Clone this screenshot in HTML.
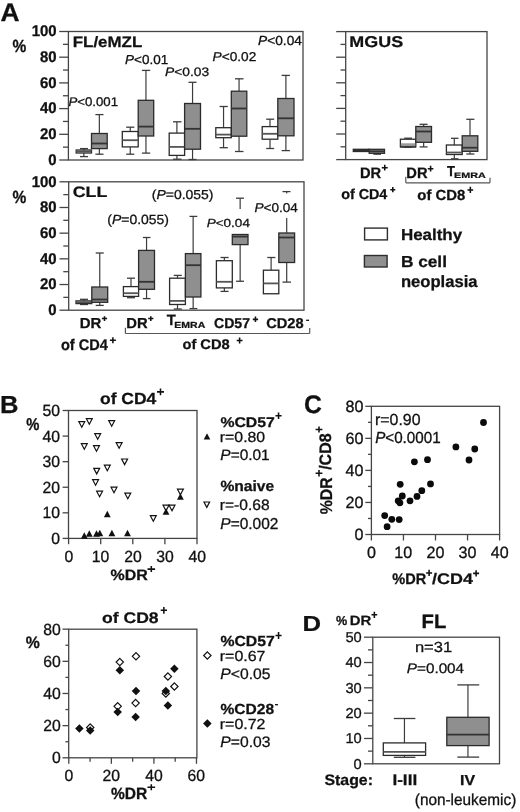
<!DOCTYPE html><html><head><meta charset="utf-8"><style>
html,body{margin:0;padding:0;background:#fff;}
svg{display:block;filter:grayscale(1);}
text{font-family:"Liberation Sans",sans-serif;text-rendering:geometricPrecision;}
</style></head><body>
<svg width="520" height="812" viewBox="0 0 520 812">
<rect width="520" height="812" fill="#fff"/>
<text transform="translate(0.49,20.60) scale(1.0387,1)" font-size="25.36" font-weight="bold" fill="#111" stroke="#111" stroke-width="0.27">A</text>
<rect x="68.40" y="31.50" width="234.60" height="128.50" fill="none" stroke="#454545" stroke-width="1.3"/>
<line x1="59.20" y1="160.00" x2="68.40" y2="160.00" stroke="#454545" stroke-width="1.3"/>
<line x1="63.00" y1="147.15" x2="68.40" y2="147.15" stroke="#454545" stroke-width="1.3"/>
<line x1="59.20" y1="134.30" x2="68.40" y2="134.30" stroke="#454545" stroke-width="1.3"/>
<line x1="63.00" y1="121.45" x2="68.40" y2="121.45" stroke="#454545" stroke-width="1.3"/>
<line x1="59.20" y1="108.60" x2="68.40" y2="108.60" stroke="#454545" stroke-width="1.3"/>
<line x1="63.00" y1="95.75" x2="68.40" y2="95.75" stroke="#454545" stroke-width="1.3"/>
<line x1="59.20" y1="82.90" x2="68.40" y2="82.90" stroke="#454545" stroke-width="1.3"/>
<line x1="63.00" y1="70.05" x2="68.40" y2="70.05" stroke="#454545" stroke-width="1.3"/>
<line x1="59.20" y1="57.20" x2="68.40" y2="57.20" stroke="#454545" stroke-width="1.3"/>
<line x1="63.00" y1="44.35" x2="68.40" y2="44.35" stroke="#454545" stroke-width="1.3"/>
<line x1="59.20" y1="31.50" x2="68.40" y2="31.50" stroke="#454545" stroke-width="1.3"/>
<text transform="translate(31.70,36.25) scale(0.9651,1)" font-size="15.49" font-weight="bold" fill="#111" stroke="#111" stroke-width="0.29">100</text>
<text transform="translate(40.00,61.95) scale(0.9651,1)" font-size="15.49" font-weight="bold" fill="#111" stroke="#111" stroke-width="0.29">80</text>
<text transform="translate(40.00,87.65) scale(0.9651,1)" font-size="15.49" font-weight="bold" fill="#111" stroke="#111" stroke-width="0.29">60</text>
<text transform="translate(40.00,113.35) scale(0.9651,1)" font-size="15.49" font-weight="bold" fill="#111" stroke="#111" stroke-width="0.29">40</text>
<text transform="translate(40.00,139.05) scale(0.9651,1)" font-size="15.49" font-weight="bold" fill="#111" stroke="#111" stroke-width="0.29">20</text>
<text transform="translate(48.30,164.75) scale(0.9651,1)" font-size="15.49" font-weight="bold" fill="#111" stroke="#111" stroke-width="0.29">0</text>
<text transform="translate(12.41,52.02) scale(0.8799,1)" font-size="17.59" font-weight="bold" fill="#111" stroke="#111" stroke-width="0.32">%</text>
<text transform="translate(72.70,46.60) scale(1.1166,1)" font-size="15.17" font-weight="bold" fill="#111" stroke="#111" stroke-width="0.25">FL/eMZL</text>
<rect x="68.70" y="181.80" width="235.30" height="128.40" fill="none" stroke="#454545" stroke-width="1.3"/>
<line x1="59.50" y1="310.20" x2="68.70" y2="310.20" stroke="#454545" stroke-width="1.3"/>
<line x1="63.30" y1="297.36" x2="68.70" y2="297.36" stroke="#454545" stroke-width="1.3"/>
<line x1="59.50" y1="284.52" x2="68.70" y2="284.52" stroke="#454545" stroke-width="1.3"/>
<line x1="63.30" y1="271.68" x2="68.70" y2="271.68" stroke="#454545" stroke-width="1.3"/>
<line x1="59.50" y1="258.84" x2="68.70" y2="258.84" stroke="#454545" stroke-width="1.3"/>
<line x1="63.30" y1="246.00" x2="68.70" y2="246.00" stroke="#454545" stroke-width="1.3"/>
<line x1="59.50" y1="233.16" x2="68.70" y2="233.16" stroke="#454545" stroke-width="1.3"/>
<line x1="63.30" y1="220.32" x2="68.70" y2="220.32" stroke="#454545" stroke-width="1.3"/>
<line x1="59.50" y1="207.48" x2="68.70" y2="207.48" stroke="#454545" stroke-width="1.3"/>
<line x1="63.30" y1="194.64" x2="68.70" y2="194.64" stroke="#454545" stroke-width="1.3"/>
<line x1="59.50" y1="181.80" x2="68.70" y2="181.80" stroke="#454545" stroke-width="1.3"/>
<text transform="translate(31.70,186.55) scale(0.9651,1)" font-size="15.49" font-weight="bold" fill="#111" stroke="#111" stroke-width="0.29">100</text>
<text transform="translate(40.00,212.23) scale(0.9651,1)" font-size="15.49" font-weight="bold" fill="#111" stroke="#111" stroke-width="0.29">80</text>
<text transform="translate(40.00,237.91) scale(0.9651,1)" font-size="15.49" font-weight="bold" fill="#111" stroke="#111" stroke-width="0.29">60</text>
<text transform="translate(40.00,263.59) scale(0.9651,1)" font-size="15.49" font-weight="bold" fill="#111" stroke="#111" stroke-width="0.29">40</text>
<text transform="translate(40.00,289.27) scale(0.9651,1)" font-size="15.49" font-weight="bold" fill="#111" stroke="#111" stroke-width="0.29">20</text>
<text transform="translate(48.30,314.95) scale(0.9651,1)" font-size="15.49" font-weight="bold" fill="#111" stroke="#111" stroke-width="0.29">0</text>
<text transform="translate(12.41,202.72) scale(0.8799,1)" font-size="17.59" font-weight="bold" fill="#111" stroke="#111" stroke-width="0.32">%</text>
<text transform="translate(72.69,197.15) scale(1.1820,1)" font-size="15.07" font-weight="bold" fill="#111" stroke="#111" stroke-width="0.24">CLL</text>
<rect x="345.70" y="31.60" width="141.30" height="128.00" fill="none" stroke="#454545" stroke-width="1.3"/>
<line x1="336.20" y1="159.60" x2="345.70" y2="159.60" stroke="#454545" stroke-width="1.3"/>
<line x1="340.50" y1="146.80" x2="345.70" y2="146.80" stroke="#454545" stroke-width="1.3"/>
<line x1="336.20" y1="134.00" x2="345.70" y2="134.00" stroke="#454545" stroke-width="1.3"/>
<line x1="340.50" y1="121.20" x2="345.70" y2="121.20" stroke="#454545" stroke-width="1.3"/>
<line x1="336.20" y1="108.40" x2="345.70" y2="108.40" stroke="#454545" stroke-width="1.3"/>
<line x1="340.50" y1="95.60" x2="345.70" y2="95.60" stroke="#454545" stroke-width="1.3"/>
<line x1="336.20" y1="82.80" x2="345.70" y2="82.80" stroke="#454545" stroke-width="1.3"/>
<line x1="340.50" y1="70.00" x2="345.70" y2="70.00" stroke="#454545" stroke-width="1.3"/>
<line x1="336.20" y1="57.20" x2="345.70" y2="57.20" stroke="#454545" stroke-width="1.3"/>
<line x1="340.50" y1="44.40" x2="345.70" y2="44.40" stroke="#454545" stroke-width="1.3"/>
<line x1="336.20" y1="31.60" x2="345.70" y2="31.60" stroke="#454545" stroke-width="1.3"/>
<text transform="translate(349.33,46.54) scale(1.1469,1)" font-size="15.63" font-weight="bold" fill="#111" stroke="#111" stroke-width="0.24">MGUS</text>
<line x1="83.85" y1="148.60" x2="83.85" y2="150.00" stroke="#3c3c3c" stroke-width="1.2"/>
<line x1="80.00" y1="148.60" x2="88.00" y2="148.60" stroke="#3c3c3c" stroke-width="1.3"/>
<line x1="83.85" y1="153.00" x2="83.85" y2="156.60" stroke="#3c3c3c" stroke-width="1.2"/>
<line x1="80.00" y1="156.60" x2="88.00" y2="156.60" stroke="#3c3c3c" stroke-width="1.3"/>
<rect x="76.20" y="150.00" width="15.30" height="3.00" fill="#fff" stroke="#2b2b2b" stroke-width="1.3"/>
<line x1="76.20" y1="151.50" x2="91.50" y2="151.50" stroke="#555" stroke-width="1.8"/>
<line x1="99.35" y1="114.60" x2="99.35" y2="133.50" stroke="#3c3c3c" stroke-width="1.2"/>
<line x1="95.40" y1="114.60" x2="103.50" y2="114.60" stroke="#3c3c3c" stroke-width="1.3"/>
<line x1="99.35" y1="148.60" x2="99.35" y2="154.20" stroke="#3c3c3c" stroke-width="1.2"/>
<line x1="95.40" y1="154.20" x2="103.50" y2="154.20" stroke="#3c3c3c" stroke-width="1.3"/>
<rect x="91.50" y="133.50" width="15.70" height="15.10" fill="#8f8f8f" stroke="#2b2b2b" stroke-width="1.3"/>
<line x1="91.50" y1="143.50" x2="107.20" y2="143.50" stroke="#333" stroke-width="1.8"/>
<line x1="130.25" y1="127.20" x2="130.25" y2="131.50" stroke="#3c3c3c" stroke-width="1.2"/>
<line x1="126.20" y1="127.20" x2="134.30" y2="127.20" stroke="#3c3c3c" stroke-width="1.3"/>
<line x1="130.25" y1="146.90" x2="130.25" y2="154.20" stroke="#3c3c3c" stroke-width="1.2"/>
<line x1="126.20" y1="154.20" x2="134.30" y2="154.20" stroke="#3c3c3c" stroke-width="1.3"/>
<rect x="122.30" y="131.50" width="15.90" height="15.40" fill="#fff" stroke="#2b2b2b" stroke-width="1.3"/>
<line x1="122.30" y1="140.20" x2="138.20" y2="140.20" stroke="#555" stroke-width="1.8"/>
<line x1="145.95" y1="70.40" x2="145.95" y2="100.30" stroke="#3c3c3c" stroke-width="1.2"/>
<line x1="141.90" y1="70.40" x2="150.20" y2="70.40" stroke="#3c3c3c" stroke-width="1.3"/>
<line x1="145.95" y1="136.00" x2="145.95" y2="153.10" stroke="#3c3c3c" stroke-width="1.2"/>
<line x1="141.90" y1="153.10" x2="150.20" y2="153.10" stroke="#3c3c3c" stroke-width="1.3"/>
<rect x="138.20" y="100.30" width="15.50" height="35.70" fill="#8f8f8f" stroke="#2b2b2b" stroke-width="1.3"/>
<line x1="138.20" y1="126.60" x2="153.70" y2="126.60" stroke="#333" stroke-width="1.8"/>
<line x1="176.90" y1="121.80" x2="176.90" y2="133.10" stroke="#3c3c3c" stroke-width="1.2"/>
<line x1="173.00" y1="121.80" x2="181.50" y2="121.80" stroke="#3c3c3c" stroke-width="1.3"/>
<line x1="176.90" y1="155.40" x2="176.90" y2="159.20" stroke="#3c3c3c" stroke-width="1.2"/>
<line x1="173.00" y1="159.20" x2="181.50" y2="159.20" stroke="#3c3c3c" stroke-width="1.3"/>
<rect x="169.20" y="133.10" width="15.40" height="22.30" fill="#fff" stroke="#2b2b2b" stroke-width="1.3"/>
<line x1="169.20" y1="146.90" x2="184.60" y2="146.90" stroke="#555" stroke-width="1.8"/>
<line x1="192.55" y1="82.30" x2="192.55" y2="103.50" stroke="#3c3c3c" stroke-width="1.2"/>
<line x1="188.50" y1="82.30" x2="196.50" y2="82.30" stroke="#3c3c3c" stroke-width="1.3"/>
<line x1="192.55" y1="149.20" x2="192.55" y2="159.50" stroke="#3c3c3c" stroke-width="1.2"/>
<line x1="188.50" y1="159.50" x2="196.50" y2="159.50" stroke="#3c3c3c" stroke-width="1.3"/>
<rect x="184.60" y="103.50" width="15.90" height="45.70" fill="#8f8f8f" stroke="#2b2b2b" stroke-width="1.3"/>
<line x1="184.60" y1="128.80" x2="200.50" y2="128.80" stroke="#333" stroke-width="1.8"/>
<line x1="223.55" y1="106.50" x2="223.55" y2="127.70" stroke="#3c3c3c" stroke-width="1.2"/>
<line x1="219.60" y1="106.50" x2="227.80" y2="106.50" stroke="#3c3c3c" stroke-width="1.3"/>
<line x1="223.55" y1="137.70" x2="223.55" y2="147.70" stroke="#3c3c3c" stroke-width="1.2"/>
<line x1="219.60" y1="147.70" x2="227.80" y2="147.70" stroke="#3c3c3c" stroke-width="1.3"/>
<rect x="215.80" y="127.70" width="15.50" height="10.00" fill="#fff" stroke="#2b2b2b" stroke-width="1.3"/>
<line x1="215.80" y1="134.60" x2="231.30" y2="134.60" stroke="#555" stroke-width="1.8"/>
<line x1="239.05" y1="78.80" x2="239.05" y2="91.20" stroke="#3c3c3c" stroke-width="1.2"/>
<line x1="235.00" y1="78.80" x2="243.50" y2="78.80" stroke="#3c3c3c" stroke-width="1.3"/>
<line x1="239.05" y1="136.20" x2="239.05" y2="151.50" stroke="#3c3c3c" stroke-width="1.2"/>
<line x1="235.00" y1="151.50" x2="243.50" y2="151.50" stroke="#3c3c3c" stroke-width="1.3"/>
<rect x="231.30" y="91.20" width="15.50" height="45.00" fill="#8f8f8f" stroke="#2b2b2b" stroke-width="1.3"/>
<line x1="231.30" y1="108.50" x2="246.80" y2="108.50" stroke="#333" stroke-width="1.8"/>
<line x1="270.00" y1="119.20" x2="270.00" y2="126.60" stroke="#3c3c3c" stroke-width="1.2"/>
<line x1="266.20" y1="119.20" x2="274.20" y2="119.20" stroke="#3c3c3c" stroke-width="1.3"/>
<line x1="270.00" y1="139.20" x2="270.00" y2="148.50" stroke="#3c3c3c" stroke-width="1.2"/>
<line x1="266.20" y1="148.50" x2="274.20" y2="148.50" stroke="#3c3c3c" stroke-width="1.3"/>
<rect x="262.20" y="126.60" width="15.60" height="12.60" fill="#fff" stroke="#2b2b2b" stroke-width="1.3"/>
<line x1="262.20" y1="133.80" x2="277.80" y2="133.80" stroke="#555" stroke-width="1.8"/>
<line x1="285.90" y1="75.40" x2="285.90" y2="98.50" stroke="#3c3c3c" stroke-width="1.2"/>
<line x1="281.60" y1="75.40" x2="289.90" y2="75.40" stroke="#3c3c3c" stroke-width="1.3"/>
<line x1="285.90" y1="135.80" x2="285.90" y2="150.60" stroke="#3c3c3c" stroke-width="1.2"/>
<line x1="281.60" y1="150.60" x2="289.90" y2="150.60" stroke="#3c3c3c" stroke-width="1.3"/>
<rect x="277.80" y="98.50" width="16.20" height="37.30" fill="#8f8f8f" stroke="#2b2b2b" stroke-width="1.3"/>
<line x1="277.80" y1="118.30" x2="294.00" y2="118.30" stroke="#333" stroke-width="1.8"/>
<text transform="translate(68.40,105.67) scale(1.0550,1)" font-size="12.54" font-weight="normal" fill="#111" stroke="#111" stroke-width="0.28"><tspan font-style="italic">P</tspan>&lt;0.001</text>
<text transform="translate(125.00,63.57) scale(1.0414,1)" font-size="12.96" font-weight="normal" fill="#111" stroke="#111" stroke-width="0.29"><tspan font-style="italic">P</tspan>&lt;0.01</text>
<text transform="translate(164.99,76.28) scale(1.1256,1)" font-size="12.25" font-weight="normal" fill="#111" stroke="#111" stroke-width="0.27"><tspan font-style="italic">P</tspan>&lt;0.03</text>
<text transform="translate(212.59,61.27) scale(1.0670,1)" font-size="12.82" font-weight="normal" fill="#111" stroke="#111" stroke-width="0.28"><tspan font-style="italic">P</tspan>&lt;0.02</text>
<text transform="translate(258.09,44.87) scale(1.0471,1)" font-size="13.10" font-weight="normal" fill="#111" stroke="#111" stroke-width="0.29"><tspan font-style="italic">P</tspan>&lt;0.04</text>
<rect x="353.30" y="149.30" width="15.90" height="2.20" fill="#333" stroke="#2b2b2b" stroke-width="1.3"/>
<line x1="376.85" y1="153.30" x2="376.85" y2="154.20" stroke="#3c3c3c" stroke-width="1.2"/>
<line x1="373.40" y1="154.20" x2="381.00" y2="154.20" stroke="#3c3c3c" stroke-width="1.3"/>
<rect x="369.20" y="149.30" width="15.30" height="4.00" fill="#8f8f8f" stroke="#2b2b2b" stroke-width="1.3"/>
<line x1="369.20" y1="151.30" x2="384.50" y2="151.30" stroke="#333" stroke-width="1.8"/>
<line x1="408.10" y1="138.20" x2="408.10" y2="139.20" stroke="#3c3c3c" stroke-width="1.2"/>
<line x1="404.20" y1="138.20" x2="412.00" y2="138.20" stroke="#3c3c3c" stroke-width="1.3"/>
<line x1="408.10" y1="146.90" x2="408.10" y2="147.00" stroke="#3c3c3c" stroke-width="1.2"/>
<line x1="404.20" y1="147.00" x2="412.00" y2="147.00" stroke="#3c3c3c" stroke-width="1.3"/>
<rect x="400.40" y="139.20" width="15.40" height="7.70" fill="#fff" stroke="#2b2b2b" stroke-width="1.3"/>
<line x1="400.40" y1="144.60" x2="415.80" y2="144.60" stroke="#555" stroke-width="1.8"/>
<rect x="401.1" y="143.6" width="14" height="2.7" fill="#9a9a9a"/>
<line x1="400.40" y1="146.90" x2="415.80" y2="146.90" stroke="#2b2b2b" stroke-width="1.3"/>
<line x1="423.65" y1="124.30" x2="423.65" y2="126.50" stroke="#3c3c3c" stroke-width="1.2"/>
<line x1="419.60" y1="124.30" x2="427.60" y2="124.30" stroke="#3c3c3c" stroke-width="1.3"/>
<line x1="423.65" y1="142.30" x2="423.65" y2="146.90" stroke="#3c3c3c" stroke-width="1.2"/>
<line x1="419.60" y1="146.90" x2="427.60" y2="146.90" stroke="#3c3c3c" stroke-width="1.3"/>
<rect x="415.80" y="126.50" width="15.70" height="15.80" fill="#8f8f8f" stroke="#2b2b2b" stroke-width="1.3"/>
<line x1="415.80" y1="131.50" x2="431.50" y2="131.50" stroke="#333" stroke-width="1.8"/>
<line x1="454.30" y1="138.30" x2="454.30" y2="145.00" stroke="#3c3c3c" stroke-width="1.2"/>
<line x1="451.00" y1="138.30" x2="458.50" y2="138.30" stroke="#3c3c3c" stroke-width="1.3"/>
<line x1="454.30" y1="154.50" x2="454.30" y2="158.80" stroke="#3c3c3c" stroke-width="1.2"/>
<line x1="451.00" y1="158.80" x2="458.50" y2="158.80" stroke="#3c3c3c" stroke-width="1.3"/>
<rect x="446.40" y="145.00" width="15.80" height="9.50" fill="#fff" stroke="#2b2b2b" stroke-width="1.3"/>
<line x1="446.40" y1="152.50" x2="462.20" y2="152.50" stroke="#555" stroke-width="1.8"/>
<line x1="470.00" y1="119.30" x2="470.00" y2="135.80" stroke="#3c3c3c" stroke-width="1.2"/>
<line x1="466.30" y1="119.30" x2="474.40" y2="119.30" stroke="#3c3c3c" stroke-width="1.3"/>
<line x1="470.00" y1="151.30" x2="470.00" y2="154.00" stroke="#3c3c3c" stroke-width="1.2"/>
<line x1="466.30" y1="154.00" x2="474.40" y2="154.00" stroke="#3c3c3c" stroke-width="1.3"/>
<rect x="462.20" y="135.80" width="15.60" height="15.50" fill="#8f8f8f" stroke="#2b2b2b" stroke-width="1.3"/>
<line x1="462.20" y1="147.70" x2="477.80" y2="147.70" stroke="#333" stroke-width="1.8"/>
<line x1="83.90" y1="299.30" x2="83.90" y2="300.90" stroke="#3c3c3c" stroke-width="1.2"/>
<line x1="80.00" y1="299.30" x2="88.00" y2="299.30" stroke="#3c3c3c" stroke-width="1.3"/>
<line x1="83.90" y1="303.60" x2="83.90" y2="304.50" stroke="#3c3c3c" stroke-width="1.2"/>
<line x1="80.00" y1="304.50" x2="88.00" y2="304.50" stroke="#3c3c3c" stroke-width="1.3"/>
<rect x="76.00" y="300.90" width="15.80" height="2.70" fill="#fff" stroke="#2b2b2b" stroke-width="1.3"/>
<line x1="76.00" y1="302.20" x2="91.80" y2="302.20" stroke="#555" stroke-width="1.8"/>
<line x1="99.75" y1="253.00" x2="99.75" y2="287.00" stroke="#3c3c3c" stroke-width="1.2"/>
<line x1="95.70" y1="253.00" x2="103.75" y2="253.00" stroke="#3c3c3c" stroke-width="1.3"/>
<line x1="99.75" y1="302.30" x2="99.75" y2="305.40" stroke="#3c3c3c" stroke-width="1.2"/>
<line x1="95.70" y1="305.40" x2="103.75" y2="305.40" stroke="#3c3c3c" stroke-width="1.3"/>
<rect x="91.80" y="287.00" width="15.90" height="15.30" fill="#8f8f8f" stroke="#2b2b2b" stroke-width="1.3"/>
<line x1="91.80" y1="299.50" x2="107.70" y2="299.50" stroke="#333" stroke-width="1.8"/>
<line x1="131.00" y1="278.20" x2="131.00" y2="286.60" stroke="#3c3c3c" stroke-width="1.2"/>
<line x1="127.00" y1="278.20" x2="135.00" y2="278.20" stroke="#3c3c3c" stroke-width="1.3"/>
<line x1="131.00" y1="296.40" x2="131.00" y2="297.70" stroke="#3c3c3c" stroke-width="1.2"/>
<line x1="127.00" y1="297.70" x2="135.00" y2="297.70" stroke="#3c3c3c" stroke-width="1.3"/>
<rect x="123.40" y="286.60" width="15.20" height="9.80" fill="#fff" stroke="#2b2b2b" stroke-width="1.3"/>
<line x1="123.40" y1="293.20" x2="138.60" y2="293.20" stroke="#555" stroke-width="1.8"/>
<line x1="146.55" y1="237.50" x2="146.55" y2="250.40" stroke="#3c3c3c" stroke-width="1.2"/>
<line x1="142.90" y1="237.50" x2="150.50" y2="237.50" stroke="#3c3c3c" stroke-width="1.3"/>
<line x1="146.55" y1="289.30" x2="146.55" y2="298.60" stroke="#3c3c3c" stroke-width="1.2"/>
<line x1="142.90" y1="298.60" x2="150.50" y2="298.60" stroke="#3c3c3c" stroke-width="1.3"/>
<rect x="138.60" y="250.40" width="15.90" height="38.90" fill="#8f8f8f" stroke="#2b2b2b" stroke-width="1.3"/>
<line x1="138.60" y1="281.80" x2="154.50" y2="281.80" stroke="#333" stroke-width="1.8"/>
<line x1="177.50" y1="275.40" x2="177.50" y2="278.20" stroke="#3c3c3c" stroke-width="1.2"/>
<line x1="173.75" y1="275.40" x2="181.80" y2="275.40" stroke="#3c3c3c" stroke-width="1.3"/>
<line x1="177.50" y1="304.50" x2="177.50" y2="309.00" stroke="#3c3c3c" stroke-width="1.2"/>
<line x1="173.75" y1="309.00" x2="181.80" y2="309.00" stroke="#3c3c3c" stroke-width="1.3"/>
<rect x="169.60" y="278.20" width="15.80" height="26.30" fill="#fff" stroke="#2b2b2b" stroke-width="1.3"/>
<line x1="169.60" y1="300.90" x2="185.40" y2="300.90" stroke="#555" stroke-width="1.8"/>
<line x1="193.15" y1="216.40" x2="193.15" y2="253.60" stroke="#3c3c3c" stroke-width="1.2"/>
<line x1="189.50" y1="216.40" x2="197.30" y2="216.40" stroke="#3c3c3c" stroke-width="1.3"/>
<line x1="193.15" y1="297.00" x2="193.15" y2="308.60" stroke="#3c3c3c" stroke-width="1.2"/>
<line x1="189.50" y1="308.60" x2="197.30" y2="308.60" stroke="#3c3c3c" stroke-width="1.3"/>
<rect x="185.40" y="253.60" width="15.50" height="43.40" fill="#8f8f8f" stroke="#2b2b2b" stroke-width="1.3"/>
<line x1="185.40" y1="265.20" x2="200.90" y2="265.20" stroke="#333" stroke-width="1.8"/>
<line x1="224.35" y1="257.50" x2="224.35" y2="260.70" stroke="#3c3c3c" stroke-width="1.2"/>
<line x1="220.50" y1="257.50" x2="228.60" y2="257.50" stroke="#3c3c3c" stroke-width="1.3"/>
<line x1="224.35" y1="287.90" x2="224.35" y2="291.40" stroke="#3c3c3c" stroke-width="1.2"/>
<line x1="220.50" y1="291.40" x2="228.60" y2="291.40" stroke="#3c3c3c" stroke-width="1.3"/>
<rect x="216.40" y="260.70" width="15.90" height="27.20" fill="#fff" stroke="#2b2b2b" stroke-width="1.3"/>
<line x1="216.40" y1="281.80" x2="232.30" y2="281.80" stroke="#555" stroke-width="1.8"/>
<line x1="240.15" y1="198.20" x2="240.15" y2="209.00" stroke="#3c3c3c" stroke-width="1.2"/>
<line x1="240.15" y1="244.60" x2="240.15" y2="281.25" stroke="#3c3c3c" stroke-width="1.2"/>
<line x1="236.00" y1="281.25" x2="244.00" y2="281.25" stroke="#3c3c3c" stroke-width="1.3"/>
<rect x="232.30" y="234.50" width="15.70" height="10.10" fill="#8f8f8f" stroke="#2b2b2b" stroke-width="1.3"/>
<line x1="232.30" y1="236.60" x2="248.00" y2="236.60" stroke="#333" stroke-width="1.8"/>
<line x1="236.00" y1="198.20" x2="244.00" y2="198.20" stroke="#3c3c3c" stroke-width="1.3"/>
<line x1="271.10" y1="257.50" x2="271.10" y2="270.20" stroke="#3c3c3c" stroke-width="1.2"/>
<line x1="267.30" y1="257.50" x2="275.40" y2="257.50" stroke="#3c3c3c" stroke-width="1.3"/>
<rect x="263.40" y="270.20" width="15.40" height="23.55" fill="#fff" stroke="#2b2b2b" stroke-width="1.3"/>
<line x1="263.40" y1="283.40" x2="278.80" y2="283.40" stroke="#555" stroke-width="1.8"/>
<line x1="286.70" y1="262.50" x2="286.70" y2="282.10" stroke="#3c3c3c" stroke-width="1.2"/>
<line x1="282.50" y1="282.10" x2="291.00" y2="282.10" stroke="#3c3c3c" stroke-width="1.3"/>
<rect x="278.80" y="233.00" width="15.80" height="29.50" fill="#8f8f8f" stroke="#2b2b2b" stroke-width="1.3"/>
<line x1="278.80" y1="237.50" x2="294.60" y2="237.50" stroke="#333" stroke-width="1.8"/>
<line x1="286.70" y1="217.90" x2="286.70" y2="233.00" stroke="#3c3c3c" stroke-width="1.2"/>
<line x1="282.50" y1="191.60" x2="290.50" y2="191.60" stroke="#3c3c3c" stroke-width="1.3"/>
<line x1="286.70" y1="191.60" x2="286.70" y2="193.60" stroke="#3c3c3c" stroke-width="1.2"/>
<text transform="translate(151.76,199.16) scale(1.0706,1)" font-size="13.05" font-weight="normal" fill="#111" stroke="#111" stroke-width="0.28">(<tspan font-style="italic">P</tspan>=0.055)</text>
<text transform="translate(107.26,223.81) scale(1.0534,1)" font-size="13.26" font-weight="normal" fill="#111" stroke="#111" stroke-width="0.28">(<tspan font-style="italic">P</tspan>=0.055)</text>
<text transform="translate(206.69,226.98) scale(1.1500,1)" font-size="11.76" font-weight="normal" fill="#111" stroke="#111" stroke-width="0.26"><tspan font-style="italic">P</tspan>&lt;0.04</text>
<text transform="translate(254.49,211.87) scale(1.0577,1)" font-size="12.82" font-weight="normal" fill="#111" stroke="#111" stroke-width="0.28"><tspan font-style="italic">P</tspan>&lt;0.04</text>
<rect x="364.60" y="228.10" width="22.80" height="11.80" fill="#fff" stroke="#2e2e2e" stroke-width="1.4"/>
<rect x="364.40" y="255.50" width="22.70" height="11.50" fill="#8f8f8f" stroke="#2e2e2e" stroke-width="1.4"/>
<text transform="translate(400.90,239.60) scale(1.0685,1)" font-size="15.86" font-weight="bold" fill="#111" stroke="#111" stroke-width="0.26">Healthy</text>
<text transform="translate(400.88,267.30) scale(1.0893,1)" font-size="15.86" font-weight="bold" fill="#111" stroke="#111" stroke-width="0.26">B cell</text>
<text transform="translate(400.92,286.90) scale(1.0125,1)" font-size="16.41" font-weight="bold" fill="#111" stroke="#111" stroke-width="0.28">neoplasia</text>
<text transform="translate(359.95,177.60) scale(0.9744,1)" font-size="15.07" font-weight="bold" fill="#111" stroke="#111" stroke-width="0.29">DR</text>
<path d="M381.80,167.65H387.70M384.75,164.80V170.50" stroke="#111" stroke-width="1.55" fill="none"/>
<text transform="translate(341.13,199.20) scale(1.0012,1)" font-size="14.34" font-weight="bold" fill="#111" stroke="#111" stroke-width="0.28">of CD4</text>
<path d="M390.30,189.70H395.30M392.80,187.10V192.30" stroke="#111" stroke-width="1.55" fill="none"/>
<text transform="translate(406.35,177.60) scale(0.9744,1)" font-size="15.07" font-weight="bold" fill="#111" stroke="#111" stroke-width="0.29">DR</text>
<path d="M427.80,168.70H433.40M430.60,165.80V171.60" stroke="#111" stroke-width="1.55" fill="none"/>
<text transform="translate(446.97,175.50) scale(0.9005,1)" font-size="14.49" font-weight="bold" fill="#111" stroke="#111" stroke-width="0.31">T</text>
<text transform="translate(454.10,177.90) scale(1.3514,1)" font-size="7.97" font-weight="bold" fill="#111" stroke="#111" stroke-width="0.21">EMRA</text>
<line x1="405.80" y1="176.80" x2="405.80" y2="182.80" stroke="#555" stroke-width="1.2"/>
<line x1="405.80" y1="182.80" x2="490.00" y2="182.80" stroke="#555" stroke-width="1.2"/>
<line x1="490.00" y1="177.70" x2="490.00" y2="182.80" stroke="#555" stroke-width="1.2"/>
<text transform="translate(417.30,199.80) scale(1.0205,1)" font-size="14.62" font-weight="bold" fill="#111" stroke="#111" stroke-width="0.27">of CD8</text>
<path d="M467.50,189.95H473.20M470.35,186.80V193.10" stroke="#111" stroke-width="1.55" fill="none"/>
<text transform="translate(79.63,328.00) scale(1.0337,1)" font-size="14.49" font-weight="bold" fill="#111" stroke="#111" stroke-width="0.27">DR</text>
<path d="M101.90,318.55H107.10M104.50,316.20V320.90" stroke="#111" stroke-width="1.55" fill="none"/>
<text transform="translate(60.92,350.00) scale(0.9419,1)" font-size="15.45" font-weight="bold" fill="#111" stroke="#111" stroke-width="0.30">of CD4</text>
<path d="M109.90,340.30H115.90M112.90,337.30V343.30" stroke="#111" stroke-width="1.55" fill="none"/>
<text transform="translate(126.24,328.00) scale(1.0185,1)" font-size="14.49" font-weight="bold" fill="#111" stroke="#111" stroke-width="0.27">DR</text>
<path d="M148.20,318.55H153.40M150.80,316.20V320.90" stroke="#111" stroke-width="1.55" fill="none"/>
<text transform="translate(166.75,324.70) scale(0.9878,1)" font-size="14.93" font-weight="bold" fill="#111" stroke="#111" stroke-width="0.28">T</text>
<text transform="translate(174.32,327.50) scale(1.1907,1)" font-size="8.84" font-weight="bold" fill="#111" stroke="#111" stroke-width="0.24">EMRA</text>
<text transform="translate(214.04,327.66) scale(0.9884,1)" font-size="14.23" font-weight="bold" fill="#111" stroke="#111" stroke-width="0.28">CD57</text>
<path d="M252.80,319.35H258.10M255.45,316.60V322.10" stroke="#111" stroke-width="1.55" fill="none"/>
<text transform="translate(266.21,327.66) scale(1.0297,1)" font-size="14.23" font-weight="bold" fill="#111" stroke="#111" stroke-width="0.27">CD28</text>
<line x1="306.10" y1="320.30" x2="309.10" y2="320.30" stroke="#111" stroke-width="1.3"/>
<line x1="125.40" y1="327.70" x2="125.40" y2="333.50" stroke="#555" stroke-width="1.2"/>
<line x1="125.40" y1="333.50" x2="309.70" y2="333.50" stroke="#555" stroke-width="1.2"/>
<line x1="309.70" y1="328.10" x2="309.70" y2="333.50" stroke="#555" stroke-width="1.2"/>
<text transform="translate(182.41,349.30) scale(1.0551,1)" font-size="13.93" font-weight="bold" fill="#111" stroke="#111" stroke-width="0.27">of CD8</text>
<path d="M236.70,340.45H242.50M239.60,337.40V343.50" stroke="#111" stroke-width="1.55" fill="none"/>
<text transform="translate(-0.06,413.10) scale(1.0380,1)" font-size="24.64" font-weight="bold" fill="#111" stroke="#111" stroke-width="0.27">B</text>
<rect x="68.50" y="410.50" width="128.50" height="127.90" fill="none" stroke="#454545" stroke-width="1.3"/>
<line x1="62.60" y1="538.40" x2="68.50" y2="538.40" stroke="#454545" stroke-width="1.3"/>
<line x1="62.60" y1="512.82" x2="68.50" y2="512.82" stroke="#454545" stroke-width="1.3"/>
<line x1="62.60" y1="487.24" x2="68.50" y2="487.24" stroke="#454545" stroke-width="1.3"/>
<line x1="62.60" y1="461.66" x2="68.50" y2="461.66" stroke="#454545" stroke-width="1.3"/>
<line x1="62.60" y1="436.08" x2="68.50" y2="436.08" stroke="#454545" stroke-width="1.3"/>
<line x1="62.60" y1="410.50" x2="68.50" y2="410.50" stroke="#454545" stroke-width="1.3"/>
<line x1="68.60" y1="538.40" x2="68.60" y2="544.20" stroke="#454545" stroke-width="1.3"/>
<line x1="100.70" y1="538.40" x2="100.70" y2="544.20" stroke="#454545" stroke-width="1.3"/>
<line x1="132.80" y1="538.40" x2="132.80" y2="544.20" stroke="#454545" stroke-width="1.3"/>
<line x1="164.90" y1="538.40" x2="164.90" y2="544.20" stroke="#454545" stroke-width="1.3"/>
<line x1="197.00" y1="538.40" x2="197.00" y2="544.20" stroke="#454545" stroke-width="1.3"/>
<text transform="translate(51.21,543.99) scale(0.9723,1)" font-size="16.20" font-weight="normal" fill="#111" stroke="#111" stroke-width="0.31">0</text>
<text transform="translate(42.47,518.41) scale(0.9723,1)" font-size="16.20" font-weight="normal" fill="#111" stroke="#111" stroke-width="0.31">10</text>
<text transform="translate(42.47,492.83) scale(0.9723,1)" font-size="16.20" font-weight="normal" fill="#111" stroke="#111" stroke-width="0.31">20</text>
<text transform="translate(42.47,467.25) scale(0.9723,1)" font-size="16.20" font-weight="normal" fill="#111" stroke="#111" stroke-width="0.31">30</text>
<text transform="translate(42.47,441.67) scale(0.9723,1)" font-size="16.20" font-weight="normal" fill="#111" stroke="#111" stroke-width="0.31">40</text>
<text transform="translate(42.47,416.09) scale(0.9723,1)" font-size="16.20" font-weight="normal" fill="#111" stroke="#111" stroke-width="0.31">50</text>
<text transform="translate(26.23,429.53) scale(0.8601,1)" font-size="17.16" font-weight="bold" fill="#111" stroke="#111" stroke-width="0.33">%</text>
<text transform="translate(100.00,403.70) scale(1.0906,1)" font-size="16.00" font-weight="bold" fill="#111" stroke="#111" stroke-width="0.26">of CD4</text>
<path d="M157.00,391.85H164.00M160.50,388.40V395.30" stroke="#111" stroke-width="1.55" fill="none"/>
<text transform="translate(64.39,561.89) scale(0.9723,1)" font-size="16.20" font-weight="normal" fill="#111" stroke="#111" stroke-width="0.31">0</text>
<text transform="translate(91.84,561.89) scale(0.9723,1)" font-size="16.20" font-weight="normal" fill="#111" stroke="#111" stroke-width="0.31">10</text>
<text transform="translate(124.14,561.89) scale(0.9723,1)" font-size="16.20" font-weight="normal" fill="#111" stroke="#111" stroke-width="0.31">20</text>
<text transform="translate(156.32,561.89) scale(0.9723,1)" font-size="16.20" font-weight="normal" fill="#111" stroke="#111" stroke-width="0.31">30</text>
<text transform="translate(188.58,561.89) scale(0.9723,1)" font-size="16.20" font-weight="normal" fill="#111" stroke="#111" stroke-width="0.31">40</text>
<text transform="translate(110.60,580.05) scale(1.0624,1)" font-size="15.04" font-weight="bold" fill="#111" stroke="#111" stroke-width="0.26">%DR</text>
<path d="M147.50,569.10H155.10M151.30,566.10V572.10" stroke="#111" stroke-width="1.55" fill="none"/>
<path d="M78.85,421.70 L84.75,421.70 L81.80,427.30 Z" fill="#fff" stroke="#111" stroke-width="1.2" stroke-linejoin="miter"/>
<path d="M86.35,418.70 L92.25,418.70 L89.30,424.30 Z" fill="#fff" stroke="#111" stroke-width="1.2" stroke-linejoin="miter"/>
<path d="M108.75,420.70 L114.65,420.70 L111.70,426.30 Z" fill="#fff" stroke="#111" stroke-width="1.2" stroke-linejoin="miter"/>
<path d="M94.75,433.70 L100.65,433.70 L97.70,439.30 Z" fill="#fff" stroke="#111" stroke-width="1.2" stroke-linejoin="miter"/>
<path d="M81.35,443.70 L87.25,443.70 L84.30,449.30 Z" fill="#fff" stroke="#111" stroke-width="1.2" stroke-linejoin="miter"/>
<path d="M93.55,445.70 L99.45,445.70 L96.50,451.30 Z" fill="#fff" stroke="#111" stroke-width="1.2" stroke-linejoin="miter"/>
<path d="M116.15,442.70 L122.05,442.70 L119.10,448.30 Z" fill="#fff" stroke="#111" stroke-width="1.2" stroke-linejoin="miter"/>
<path d="M121.65,459.00 L127.55,459.00 L124.60,464.60 Z" fill="#fff" stroke="#111" stroke-width="1.2" stroke-linejoin="miter"/>
<path d="M104.35,465.20 L110.25,465.20 L107.30,470.80 Z" fill="#fff" stroke="#111" stroke-width="1.2" stroke-linejoin="miter"/>
<path d="M93.75,468.30 L99.65,468.30 L96.70,473.90 Z" fill="#fff" stroke="#111" stroke-width="1.2" stroke-linejoin="miter"/>
<path d="M92.65,479.70 L98.55,479.70 L95.60,485.30 Z" fill="#fff" stroke="#111" stroke-width="1.2" stroke-linejoin="miter"/>
<path d="M96.65,491.20 L102.55,491.20 L99.60,496.80 Z" fill="#fff" stroke="#111" stroke-width="1.2" stroke-linejoin="miter"/>
<path d="M111.05,487.20 L116.95,487.20 L114.00,492.80 Z" fill="#fff" stroke="#111" stroke-width="1.2" stroke-linejoin="miter"/>
<path d="M124.85,493.20 L130.75,493.20 L127.80,498.80 Z" fill="#fff" stroke="#111" stroke-width="1.2" stroke-linejoin="miter"/>
<path d="M150.35,515.70 L156.25,515.70 L153.30,521.30 Z" fill="#fff" stroke="#111" stroke-width="1.2" stroke-linejoin="miter"/>
<path d="M163.05,505.20 L168.95,505.20 L166.00,510.80 Z" fill="#fff" stroke="#111" stroke-width="1.2" stroke-linejoin="miter"/>
<path d="M169.05,505.20 L174.95,505.20 L172.00,510.80 Z" fill="#fff" stroke="#111" stroke-width="1.2" stroke-linejoin="miter"/>
<path d="M177.45,489.20 L183.35,489.20 L180.40,494.80 Z" fill="#fff" stroke="#111" stroke-width="1.2" stroke-linejoin="miter"/>
<path d="M103.90,517.20 L110.70,517.20 L107.30,510.80 Z" fill="#111"/>
<path d="M80.90,538.70 L87.70,538.70 L84.30,532.30 Z" fill="#111"/>
<path d="M85.90,536.70 L92.70,536.70 L89.30,530.30 Z" fill="#111"/>
<path d="M93.10,536.70 L99.90,536.70 L96.50,530.30 Z" fill="#111"/>
<path d="M96.40,536.20 L103.20,536.20 L99.80,529.80 Z" fill="#111"/>
<path d="M108.50,536.20 L115.30,536.20 L111.90,529.80 Z" fill="#111"/>
<path d="M124.10,536.20 L130.90,536.20 L127.50,529.80 Z" fill="#111"/>
<path d="M162.60,514.70 L169.40,514.70 L166.00,508.30 Z" fill="#111"/>
<path d="M177.00,499.70 L183.80,499.70 L180.40,493.30 Z" fill="#111"/>
<path d="M203.70,439.40 L210.30,439.40 L207.00,433.20 Z" fill="#111"/>
<path d="M204.00,502.00 L209.60,502.00 L206.80,507.40 Z" fill="#fff" stroke="#111" stroke-width="1.2" stroke-linejoin="miter"/>
<text transform="translate(220.41,426.56) scale(1.1217,1)" font-size="14.08" font-weight="bold" fill="#111" stroke="#111" stroke-width="0.25">%CD57</text>
<path d="M275.50,415.75H281.60M278.55,412.60V418.90" stroke="#111" stroke-width="1.55" fill="none"/>
<text transform="translate(219.77,442.15) scale(1.0834,1)" font-size="14.65" font-weight="normal" fill="#111" stroke="#111" stroke-width="0.28">r=0.80</text>
<text transform="translate(220.34,459.75) scale(1.0251,1)" font-size="15.07" font-weight="normal" fill="#111" stroke="#111" stroke-width="0.29"><tspan font-style="italic">P</tspan>=0.01</text>
<text transform="translate(220.41,490.55) scale(1.0518,1)" font-size="14.83" font-weight="bold" fill="#111" stroke="#111" stroke-width="0.27">%naive</text>
<text transform="translate(219.79,510.25) scale(1.0351,1)" font-size="15.07" font-weight="normal" fill="#111" stroke="#111" stroke-width="0.29">r=-0.68</text>
<text transform="translate(220.34,528.94) scale(0.9811,1)" font-size="15.77" font-weight="normal" fill="#111" stroke="#111" stroke-width="0.31"><tspan font-style="italic">P</tspan>=0.002</text>
<rect x="68.70" y="629.20" width="128.20" height="128.60" fill="none" stroke="#454545" stroke-width="1.3"/>
<line x1="62.50" y1="757.80" x2="68.70" y2="757.80" stroke="#454545" stroke-width="1.3"/>
<line x1="65.40" y1="741.72" x2="68.70" y2="741.72" stroke="#454545" stroke-width="1.3"/>
<line x1="62.50" y1="725.64" x2="68.70" y2="725.64" stroke="#454545" stroke-width="1.3"/>
<line x1="65.40" y1="709.56" x2="68.70" y2="709.56" stroke="#454545" stroke-width="1.3"/>
<line x1="62.50" y1="693.48" x2="68.70" y2="693.48" stroke="#454545" stroke-width="1.3"/>
<line x1="65.40" y1="677.40" x2="68.70" y2="677.40" stroke="#454545" stroke-width="1.3"/>
<line x1="62.50" y1="661.32" x2="68.70" y2="661.32" stroke="#454545" stroke-width="1.3"/>
<line x1="65.40" y1="645.24" x2="68.70" y2="645.24" stroke="#454545" stroke-width="1.3"/>
<line x1="62.50" y1="629.16" x2="68.70" y2="629.16" stroke="#454545" stroke-width="1.3"/>
<line x1="68.80" y1="757.80" x2="68.80" y2="763.80" stroke="#454545" stroke-width="1.3"/>
<line x1="90.08" y1="757.80" x2="90.08" y2="761.70" stroke="#454545" stroke-width="1.3"/>
<line x1="111.36" y1="757.80" x2="111.36" y2="763.80" stroke="#454545" stroke-width="1.3"/>
<line x1="132.64" y1="757.80" x2="132.64" y2="761.70" stroke="#454545" stroke-width="1.3"/>
<line x1="153.92" y1="757.80" x2="153.92" y2="763.80" stroke="#454545" stroke-width="1.3"/>
<line x1="175.20" y1="757.80" x2="175.20" y2="761.70" stroke="#454545" stroke-width="1.3"/>
<line x1="196.48" y1="757.80" x2="196.48" y2="763.80" stroke="#454545" stroke-width="1.3"/>
<text transform="translate(52.11,763.39) scale(0.9723,1)" font-size="16.20" font-weight="normal" fill="#111" stroke="#111" stroke-width="0.31">0</text>
<text transform="translate(43.37,731.23) scale(0.9723,1)" font-size="16.20" font-weight="normal" fill="#111" stroke="#111" stroke-width="0.31">20</text>
<text transform="translate(43.37,699.07) scale(0.9723,1)" font-size="16.20" font-weight="normal" fill="#111" stroke="#111" stroke-width="0.31">40</text>
<text transform="translate(43.37,666.91) scale(0.9723,1)" font-size="16.20" font-weight="normal" fill="#111" stroke="#111" stroke-width="0.31">60</text>
<text transform="translate(43.37,634.75) scale(0.9723,1)" font-size="16.20" font-weight="normal" fill="#111" stroke="#111" stroke-width="0.31">80</text>
<text transform="translate(25.80,648.13) scale(0.9541,1)" font-size="16.60" font-weight="bold" fill="#111" stroke="#111" stroke-width="0.29">%</text>
<text transform="translate(102.00,622.60) scale(1.1487,1)" font-size="15.31" font-weight="bold" fill="#111" stroke="#111" stroke-width="0.24">of CD8</text>
<path d="M160.70,610.30H167.00M163.85,606.90V613.70" stroke="#111" stroke-width="1.55" fill="none"/>
<text transform="translate(64.39,780.99) scale(0.9723,1)" font-size="16.20" font-weight="normal" fill="#111" stroke="#111" stroke-width="0.31">0</text>
<text transform="translate(102.50,780.99) scale(0.9723,1)" font-size="16.20" font-weight="normal" fill="#111" stroke="#111" stroke-width="0.31">20</text>
<text transform="translate(145.30,780.99) scale(0.9723,1)" font-size="16.20" font-weight="normal" fill="#111" stroke="#111" stroke-width="0.31">40</text>
<text transform="translate(187.62,780.99) scale(0.9723,1)" font-size="16.20" font-weight="normal" fill="#111" stroke="#111" stroke-width="0.31">60</text>
<text transform="translate(110.91,799.04) scale(0.9551,1)" font-size="16.31" font-weight="bold" fill="#111" stroke="#111" stroke-width="0.29">%DR</text>
<path d="M147.50,787.30H155.10M151.30,784.30V790.30" stroke="#111" stroke-width="1.55" fill="none"/>
<path d="M90.20,723.85 L93.85,727.50 L90.20,731.15 L86.55,727.50 Z" fill="#fff" stroke="#111" stroke-width="1.2"/>
<path d="M119.80,658.45 L123.45,662.10 L119.80,665.75 L116.15,662.10 Z" fill="#fff" stroke="#111" stroke-width="1.2"/>
<path d="M136.00,652.65 L139.65,656.30 L136.00,659.95 L132.35,656.30 Z" fill="#fff" stroke="#111" stroke-width="1.2"/>
<path d="M135.60,699.45 L139.25,703.10 L135.60,706.75 L131.95,703.10 Z" fill="#fff" stroke="#111" stroke-width="1.2"/>
<path d="M117.70,702.65 L121.35,706.30 L117.70,709.95 L114.05,706.30 Z" fill="#fff" stroke="#111" stroke-width="1.2"/>
<path d="M167.90,672.85 L171.55,676.50 L167.90,680.15 L164.25,676.50 Z" fill="#fff" stroke="#111" stroke-width="1.2"/>
<path d="M174.40,682.85 L178.05,686.50 L174.40,690.15 L170.75,686.50 Z" fill="#fff" stroke="#111" stroke-width="1.2"/>
<path d="M165.80,689.85 L169.45,693.50 L165.80,697.15 L162.15,693.50 Z" fill="#fff" stroke="#111" stroke-width="1.2"/>
<path d="M79.40,724.35 L83.65,728.60 L79.40,732.85 L75.15,728.60 Z" fill="#111"/>
<path d="M90.20,726.25 L94.45,730.50 L90.20,734.75 L85.95,730.50 Z" fill="#111"/>
<path d="M119.80,665.95 L124.05,670.20 L119.80,674.45 L115.55,670.20 Z" fill="#111"/>
<path d="M136.00,686.75 L140.25,691.00 L136.00,695.25 L131.75,691.00 Z" fill="#111"/>
<path d="M135.60,712.65 L139.85,716.90 L135.60,721.15 L131.35,716.90 Z" fill="#111"/>
<path d="M117.70,707.85 L121.95,712.10 L117.70,716.35 L113.45,712.10 Z" fill="#111"/>
<path d="M174.40,664.55 L178.65,668.80 L174.40,673.05 L170.15,668.80 Z" fill="#111"/>
<path d="M165.80,686.75 L170.05,691.00 L165.80,695.25 L161.55,691.00 Z" fill="#111"/>
<path d="M167.90,701.15 L172.15,705.40 L167.90,709.65 L163.65,705.40 Z" fill="#111"/>
<path d="M207.35,651.80 L211.05,655.50 L207.35,659.20 L203.65,655.50 Z" fill="#fff" stroke="#111" stroke-width="1.2"/>
<path d="M207.35,719.20 L211.65,723.50 L207.35,727.80 L203.05,723.50 Z" fill="#111"/>
<text transform="translate(220.41,645.55) scale(1.0786,1)" font-size="14.65" font-weight="bold" fill="#111" stroke="#111" stroke-width="0.26">%CD57</text>
<path d="M275.50,635.45H281.60M278.55,632.00V638.90" stroke="#111" stroke-width="1.55" fill="none"/>
<text transform="translate(219.76,661.45) scale(1.0893,1)" font-size="14.65" font-weight="normal" fill="#111" stroke="#111" stroke-width="0.28">r=0.67</text>
<text transform="translate(220.33,679.15) scale(1.0308,1)" font-size="15.21" font-weight="normal" fill="#111" stroke="#111" stroke-width="0.29"><tspan font-style="italic">P</tspan>&lt;0.05</text>
<text transform="translate(220.41,713.55) scale(1.0633,1)" font-size="14.65" font-weight="bold" fill="#111" stroke="#111" stroke-width="0.26">%CD28</text>
<line x1="275.00" y1="704.70" x2="278.00" y2="704.70" stroke="#111" stroke-width="1.3"/>
<text transform="translate(219.76,729.45) scale(1.0893,1)" font-size="14.65" font-weight="normal" fill="#111" stroke="#111" stroke-width="0.28">r=0.72</text>
<text transform="translate(220.33,747.15) scale(1.0308,1)" font-size="15.21" font-weight="normal" fill="#111" stroke="#111" stroke-width="0.29"><tspan font-style="italic">P</tspan>=0.03</text>
<text transform="translate(304.01,412.85) scale(0.9756,1)" font-size="25.35" font-weight="bold" fill="#111" stroke="#111" stroke-width="0.29">C</text>
<rect x="371.40" y="406.30" width="128.20" height="128.20" fill="none" stroke="#454545" stroke-width="1.3"/>
<line x1="365.30" y1="534.50" x2="371.40" y2="534.50" stroke="#454545" stroke-width="1.3"/>
<line x1="368.00" y1="518.48" x2="371.40" y2="518.48" stroke="#454545" stroke-width="1.3"/>
<line x1="365.30" y1="502.45" x2="371.40" y2="502.45" stroke="#454545" stroke-width="1.3"/>
<line x1="368.00" y1="486.43" x2="371.40" y2="486.43" stroke="#454545" stroke-width="1.3"/>
<line x1="365.30" y1="470.40" x2="371.40" y2="470.40" stroke="#454545" stroke-width="1.3"/>
<line x1="368.00" y1="454.38" x2="371.40" y2="454.38" stroke="#454545" stroke-width="1.3"/>
<line x1="365.30" y1="438.35" x2="371.40" y2="438.35" stroke="#454545" stroke-width="1.3"/>
<line x1="368.00" y1="422.33" x2="371.40" y2="422.33" stroke="#454545" stroke-width="1.3"/>
<line x1="365.30" y1="406.30" x2="371.40" y2="406.30" stroke="#454545" stroke-width="1.3"/>
<line x1="371.40" y1="534.50" x2="371.40" y2="540.50" stroke="#454545" stroke-width="1.3"/>
<line x1="403.45" y1="534.50" x2="403.45" y2="540.50" stroke="#454545" stroke-width="1.3"/>
<line x1="435.50" y1="534.50" x2="435.50" y2="540.50" stroke="#454545" stroke-width="1.3"/>
<line x1="467.55" y1="534.50" x2="467.55" y2="540.50" stroke="#454545" stroke-width="1.3"/>
<line x1="499.60" y1="534.50" x2="499.60" y2="540.50" stroke="#454545" stroke-width="1.3"/>
<text transform="translate(354.53,540.14) scale(0.9854,1)" font-size="16.34" font-weight="normal" fill="#111" stroke="#111" stroke-width="0.30">0</text>
<text transform="translate(345.59,508.09) scale(0.9854,1)" font-size="16.34" font-weight="normal" fill="#111" stroke="#111" stroke-width="0.30">20</text>
<text transform="translate(345.59,476.04) scale(0.9854,1)" font-size="16.34" font-weight="normal" fill="#111" stroke="#111" stroke-width="0.30">40</text>
<text transform="translate(345.59,443.99) scale(0.9854,1)" font-size="16.34" font-weight="normal" fill="#111" stroke="#111" stroke-width="0.30">60</text>
<text transform="translate(345.59,411.94) scale(0.9854,1)" font-size="16.34" font-weight="normal" fill="#111" stroke="#111" stroke-width="0.30">80</text>
<text transform="translate(366.89,557.54) scale(0.9854,1)" font-size="16.34" font-weight="normal" fill="#111" stroke="#111" stroke-width="0.30">0</text>
<text transform="translate(394.19,557.54) scale(0.9854,1)" font-size="16.34" font-weight="normal" fill="#111" stroke="#111" stroke-width="0.30">10</text>
<text transform="translate(426.44,557.54) scale(0.9854,1)" font-size="16.34" font-weight="normal" fill="#111" stroke="#111" stroke-width="0.30">20</text>
<text transform="translate(458.57,557.54) scale(0.9854,1)" font-size="16.34" font-weight="normal" fill="#111" stroke="#111" stroke-width="0.30">30</text>
<text transform="translate(490.79,557.54) scale(0.9854,1)" font-size="16.34" font-weight="normal" fill="#111" stroke="#111" stroke-width="0.30">40</text>
<text transform="translate(374.97,425.04) scale(0.9906,1)" font-size="16.06" font-weight="normal" fill="#111" stroke="#111" stroke-width="0.30">r=0.90</text>
<text transform="translate(375.14,443.04) scale(0.9471,1)" font-size="16.06" font-weight="normal" fill="#111" stroke="#111" stroke-width="0.32"><tspan font-style="italic">P</tspan>&lt;0.0001</text>
<text transform="translate(392.24,584.05) scale(0.9485,1)" font-size="15.32" font-weight="bold" fill="#111" stroke="#111" stroke-width="0.30">%DR</text>
<path d="M426.10,572.90H432.10M429.10,569.70V576.10" stroke="#111" stroke-width="1.55" fill="none"/>
<text transform="translate(432.12,584.09) scale(1.1740,1)" font-size="15.30" font-weight="bold" fill="#111" stroke="#111" stroke-width="0.24">/CD4</text>
<path d="M473.10,573.35H479.10M476.10,570.30V576.40" stroke="#111" stroke-width="1.55" fill="none"/>
<circle cx="483.5" cy="422.5" r="3.4" fill="#0a0a0a"/>
<circle cx="455.9" cy="446.9" r="3.4" fill="#0a0a0a"/>
<circle cx="474.75" cy="449" r="3.4" fill="#0a0a0a"/>
<circle cx="469" cy="460" r="3.4" fill="#0a0a0a"/>
<circle cx="414.4" cy="461.8" r="3.4" fill="#0a0a0a"/>
<circle cx="427.5" cy="459.7" r="3.4" fill="#0a0a0a"/>
<circle cx="400.2" cy="484.3" r="3.4" fill="#0a0a0a"/>
<circle cx="430.5" cy="483.9" r="3.4" fill="#0a0a0a"/>
<circle cx="421.8" cy="490.7" r="3.4" fill="#0a0a0a"/>
<circle cx="417" cy="496.4" r="3.4" fill="#0a0a0a"/>
<circle cx="402.3" cy="496" r="3.4" fill="#0a0a0a"/>
<circle cx="410" cy="500.8" r="3.4" fill="#0a0a0a"/>
<circle cx="398.2" cy="500.8" r="3.4" fill="#0a0a0a"/>
<circle cx="399.9" cy="502.8" r="3.4" fill="#0a0a0a"/>
<circle cx="384.7" cy="515.6" r="3.4" fill="#0a0a0a"/>
<circle cx="391.8" cy="519.3" r="3.4" fill="#0a0a0a"/>
<circle cx="399.2" cy="519.6" r="3.4" fill="#0a0a0a"/>
<circle cx="387.1" cy="526.7" r="3.4" fill="#0a0a0a"/>
<g transform="rotate(-90)">
<text transform="translate(-514.29,331.63) scale(0.9282,1)" font-size="17.02" font-weight="bold" fill="#111" stroke="#111" stroke-width="0.30">%DR</text>
<path d="M-476.40,319.00H-470.00M-473.20,315.60V322.40" stroke="#111" stroke-width="1.55" fill="none"/>
<text transform="translate(-469.86,331.47) scale(0.9624,1)" font-size="16.64" font-weight="bold" fill="#111" stroke="#111" stroke-width="0.29">/CD8</text>
<path d="M-432.50,319.00H-426.60M-429.55,315.60V322.40" stroke="#111" stroke-width="1.55" fill="none"/>
</g>
<text transform="translate(302.53,630.80) scale(1.1818,1)" font-size="21.74" font-weight="bold" fill="#111" stroke="#111" stroke-width="0.24">D</text>
<text transform="translate(335.98,624.87) scale(0.9670,1)" font-size="13.05" font-weight="bold" fill="#111" stroke="#111" stroke-width="0.29">%</text>
<text transform="translate(349.83,625.00) scale(1.1181,1)" font-size="13.33" font-weight="bold" fill="#111" stroke="#111" stroke-width="0.25">DR</text>
<path d="M371.50,614.80H377.20M374.35,611.70V617.90" stroke="#111" stroke-width="1.55" fill="none"/>
<text transform="translate(421.58,627.80) scale(1.0514,1)" font-size="19.28" font-weight="bold" fill="#111" stroke="#111" stroke-width="0.27">FL</text>
<rect x="372.80" y="637.20" width="126.70" height="126.60" fill="none" stroke="#454545" stroke-width="1.3"/>
<line x1="364.00" y1="763.80" x2="372.80" y2="763.80" stroke="#454545" stroke-width="1.3"/>
<line x1="368.00" y1="751.14" x2="372.80" y2="751.14" stroke="#454545" stroke-width="1.3"/>
<line x1="364.00" y1="738.48" x2="372.80" y2="738.48" stroke="#454545" stroke-width="1.3"/>
<line x1="368.00" y1="725.82" x2="372.80" y2="725.82" stroke="#454545" stroke-width="1.3"/>
<line x1="364.00" y1="713.16" x2="372.80" y2="713.16" stroke="#454545" stroke-width="1.3"/>
<line x1="368.00" y1="700.50" x2="372.80" y2="700.50" stroke="#454545" stroke-width="1.3"/>
<line x1="364.00" y1="687.84" x2="372.80" y2="687.84" stroke="#454545" stroke-width="1.3"/>
<line x1="368.00" y1="675.18" x2="372.80" y2="675.18" stroke="#454545" stroke-width="1.3"/>
<line x1="364.00" y1="662.52" x2="372.80" y2="662.52" stroke="#454545" stroke-width="1.3"/>
<line x1="368.00" y1="649.86" x2="372.80" y2="649.86" stroke="#454545" stroke-width="1.3"/>
<line x1="364.00" y1="637.20" x2="372.80" y2="637.20" stroke="#454545" stroke-width="1.3"/>
<text transform="translate(353.56,768.76) scale(1.0223,1)" font-size="14.37" font-weight="normal" fill="#111" stroke="#111" stroke-width="0.29">0</text>
<text transform="translate(345.41,743.44) scale(1.0223,1)" font-size="14.37" font-weight="normal" fill="#111" stroke="#111" stroke-width="0.29">10</text>
<text transform="translate(345.41,718.12) scale(1.0223,1)" font-size="14.37" font-weight="normal" fill="#111" stroke="#111" stroke-width="0.29">20</text>
<text transform="translate(345.41,692.80) scale(1.0223,1)" font-size="14.37" font-weight="normal" fill="#111" stroke="#111" stroke-width="0.29">30</text>
<text transform="translate(345.41,667.48) scale(1.0223,1)" font-size="14.37" font-weight="normal" fill="#111" stroke="#111" stroke-width="0.29">40</text>
<text transform="translate(345.41,642.16) scale(1.0223,1)" font-size="14.37" font-weight="normal" fill="#111" stroke="#111" stroke-width="0.29">50</text>
<text transform="translate(414.92,652.45) scale(1.1293,1)" font-size="14.65" font-weight="normal" fill="#111" stroke="#111" stroke-width="0.27">n=31</text>
<text transform="translate(406.84,672.66) scale(1.1054,1)" font-size="13.80" font-weight="normal" fill="#111" stroke="#111" stroke-width="0.27"><tspan font-style="italic">P</tspan>=0.004</text>
<line x1="404.45" y1="718.50" x2="404.45" y2="742.90" stroke="#3c3c3c" stroke-width="1.2"/>
<line x1="393.80" y1="718.50" x2="415.40" y2="718.50" stroke="#3c3c3c" stroke-width="1.3"/>
<line x1="404.45" y1="755.40" x2="404.45" y2="757.30" stroke="#3c3c3c" stroke-width="1.2"/>
<line x1="393.80" y1="757.30" x2="415.40" y2="757.30" stroke="#3c3c3c" stroke-width="1.3"/>
<rect x="383.30" y="742.90" width="42.30" height="12.50" fill="#fff" stroke="#2b2b2b" stroke-width="1.3"/>
<line x1="383.30" y1="751.90" x2="425.60" y2="751.90" stroke="#555" stroke-width="1.8"/>
<line x1="467.95" y1="684.90" x2="467.95" y2="717.30" stroke="#3c3c3c" stroke-width="1.2"/>
<line x1="457.30" y1="684.90" x2="479.20" y2="684.90" stroke="#3c3c3c" stroke-width="1.3"/>
<line x1="467.95" y1="745.60" x2="467.95" y2="757.10" stroke="#3c3c3c" stroke-width="1.2"/>
<line x1="457.30" y1="757.10" x2="479.20" y2="757.10" stroke="#3c3c3c" stroke-width="1.3"/>
<rect x="446.80" y="717.30" width="42.30" height="28.30" fill="#8f8f8f" stroke="#2b2b2b" stroke-width="1.3"/>
<line x1="446.80" y1="734.70" x2="489.10" y2="734.70" stroke="#333" stroke-width="1.8"/>
<text transform="translate(324.52,785.20) scale(1.0480,1)" font-size="15.14" font-weight="bold" fill="#111" stroke="#111" stroke-width="0.27">Stage:</text>
<text transform="translate(392.38,785.20) scale(1.1180,1)" font-size="15.36" font-weight="bold" fill="#111" stroke="#111" stroke-width="0.25">I-III</text>
<text transform="translate(459.96,785.00) scale(1.1040,1)" font-size="14.49" font-weight="bold" fill="#111" stroke="#111" stroke-width="0.25">IV</text>
<text transform="translate(414.78,805.43) scale(0.9576,1)" font-size="16.04" font-weight="normal" fill="#111" stroke="#111" stroke-width="0.31">(non-leukemic)</text>
</svg></body></html>
